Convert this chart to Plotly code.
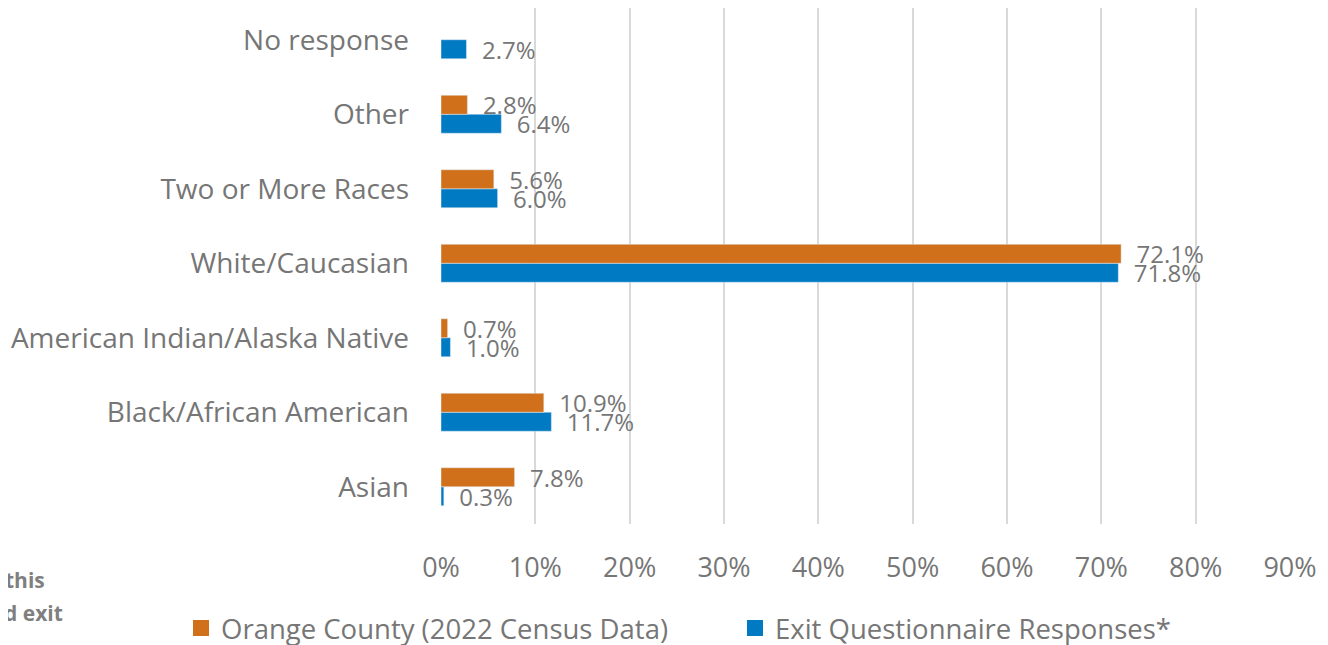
import plotly.graph_objects as go

categories = ["Asian", "Black/African American", "American Indian/Alaska Native",
              "White/Caucasian", "Two or More Races", "Other", "No response"]
orange_county = [7.8, 10.9, 0.7, 72.1, 5.6, 2.8, None]
exit_responses = [0.3, 11.7, 1.0, 71.8, 6.0, 6.4, 2.7]
series_names = ["Orange County (2022 Census Data)", "Exit Questionnaire Responses*"]
tick_vals = [0, 10, 20, 30, 40, 50, 60, 70, 80, 90]
tick_text = ["%d%%" % v for v in tick_vals]

ORANGE = "#D0701B"
BLUE = "#007AC2"
GRAY = "#767676"
FONT = "Open Sans"

def labels(vals):
    return ["" if v is None else "  %.1f%%" % v for v in vals]

fig = go.Figure()
# blue first so it sits below the orange bar in each group
fig.add_trace(go.Bar(
    y=categories, x=exit_responses, orientation="h", name=series_names[1],
    marker=dict(color=BLUE), text=labels(exit_responses), textposition="outside",
    textfont=dict(color=GRAY, size=24, family=FONT), cliponaxis=False,
    constraintext="none", showlegend=False,
))
fig.add_trace(go.Bar(
    y=categories, x=orange_county, orientation="h", name=series_names[0],
    marker=dict(color=ORANGE), text=labels(orange_county), textposition="outside",
    textfont=dict(color=GRAY, size=24, family=FONT), cliponaxis=False,
    constraintext="none", showlegend=False,
))
# legend entries (square swatches)
for name, col, rank in [(series_names[0], ORANGE, 1), (series_names[1], BLUE, 2)]:
    fig.add_trace(go.Scatter(
        x=[None], y=[None], mode="markers", name=name,
        marker=dict(symbol="square", size=18, color=col),
        legendrank=rank, showlegend=True,
    ))

# page body adds an 8px offset, so the figure is laid out 8px smaller
W, H = 1320, 637
L, R, T, B = 433, 38, 0, 121
PW, PH = W - L - R, H - T - B
row_px = 74.5

fig.update_layout(
    width=W, height=H,
    margin=dict(l=L, r=R, t=T, b=B, autoexpand=False),
    paper_bgcolor="white", plot_bgcolor="white",
    barmode="group", bargap=0.49, bargroupgap=0,
    font=dict(family=FONT, color=GRAY, size=28),
    showlegend=True,
    legend=dict(orientation="h",
                x=(173 - L) / PW, xanchor="left",
                y=(PH - 620) / PH, yanchor="middle",
                entrywidth=509, entrywidthmode="pixels",
                font=dict(size=27.5, color=GRAY, family=FONT),
                itemwidth=30, traceorder="normal"),
    xaxis=dict(range=[0, 90], tickmode="array", tickvals=tick_vals, ticktext=tick_text,
               showgrid=True, gridcolor="#d9d9d9", gridwidth=2,
               zeroline=False, showline=False, ticks="",
               ticklabelstandoff=25, automargin=False,
               tickfont=dict(size=27, color=GRAY, family=FONT)),
    yaxis=dict(showgrid=False, zeroline=False, showline=False, ticks="",
               range=[-0.5, -0.5 + PH / row_px],
               ticklabelstandoff=31, automargin=False,
               tickfont=dict(size=28, color=GRAY, family=FONT)),
)

fig.add_annotation(text="<b>this</b>", xref="paper", yref="paper",
                   x=(39 - L) / PW, xanchor="right",
                   y=(PH - 572) / PH, yanchor="middle",
                   showarrow=False, font=dict(size=21, color="#7f7f7f", family=FONT))
fig.add_annotation(text="<b>d exit</b>", xref="paper", yref="paper",
                   x=(57 - L) / PW, xanchor="right",
                   y=(PH - 605) / PH, yanchor="middle",
                   showarrow=False, font=dict(size=21, color="#7f7f7f", family=FONT))

fig.write_html("out.html")
